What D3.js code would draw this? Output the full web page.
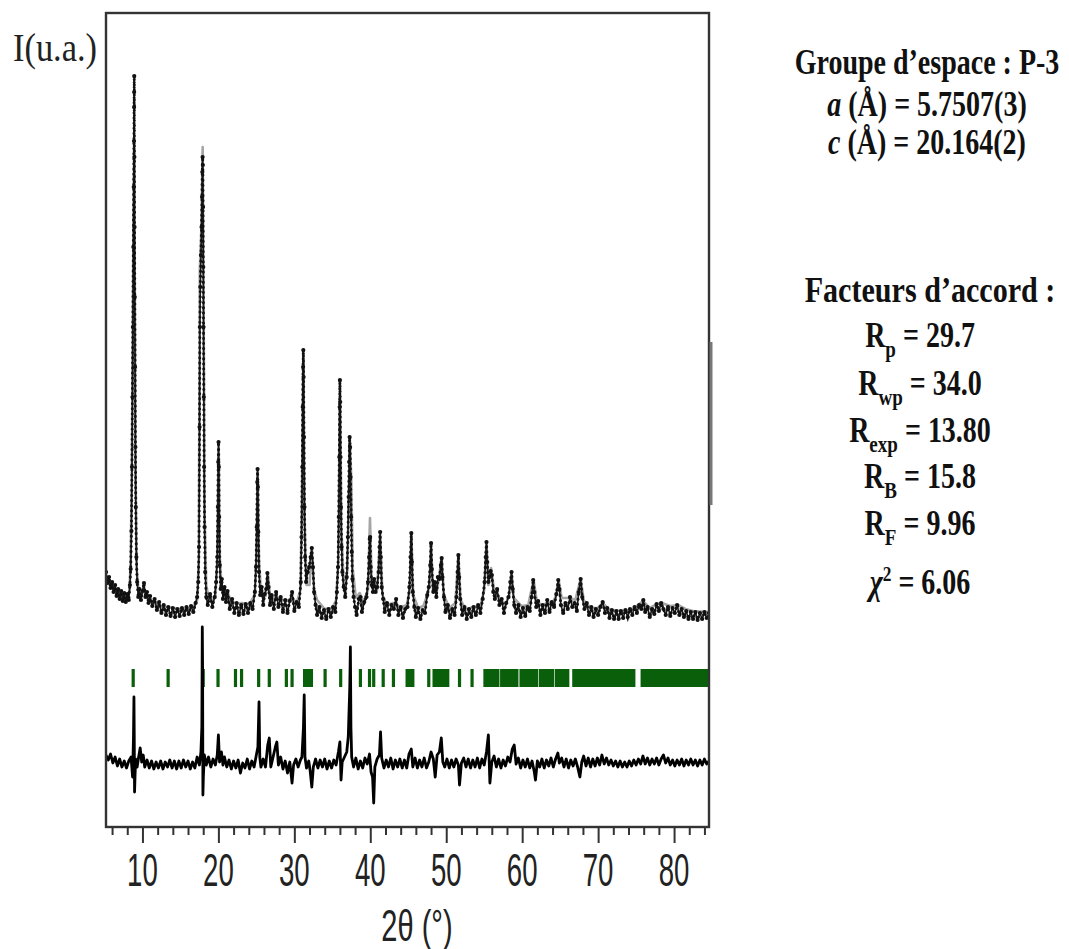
<!DOCTYPE html>
<html>
<head>
<meta charset="utf-8">
<script src="https://cdn.jsdelivr.net/npm/d3@7"></script>
<style>
  html, body { margin: 0; padding: 0; background: #fff; }
  svg { display: block; }
</style>
</head>
<body>
<svg id="chart" width="1069" height="949"></svg>
<script>
// ---------------- DATA ----------------
// 2θ (deg), intensity (arbitrary units)
const calculated = [
[5.2,49],[5.6,44],[6.0,40],[6.5,36],[7.0,33],[7.5,31],[8.0,30],[8.3,37],[8.45,67],[8.6,157],[8.75,327],[8.9,486],[9.0,327],[9.1,147],[9.25,57],[9.5,35],[9.8,31],[10.2,37],[10.6,29],[11.5,24],[12.5,20],[13.4,20],[14.5,18],[16.0,18],[16.8,21],[17.2,27],[17.42,67],[17.55,357],[17.75,397],[17.93,480],[18.05,327],[18.2,107],[18.4,42],[18.7,29],[19.2,27],[19.6,29],[19.85,67],[20.03,185],[20.2,67],[20.45,37],[20.8,31],[21.2,35],[21.6,27],[22.3,23],[23.1,24],[24.0,22],[24.8,32],[25.0,67],[25.17,158],[25.35,67],[25.6,35],[26.2,31],[26.5,54],[26.8,31],[27.6,31],[28.0,27],[29.0,26],[29.7,29],[30.3,24],[30.8,37],[31.0,127],[31.18,277],[31.35,107],[31.6,42],[32.0,42],[32.3,79],[32.6,37],[33.0,27],[34.0,18],[35.0,19],[35.5,27],[35.8,67],[36.0,247],[36.2,97],[36.5,42],[37.0,57],[37.15,127],[37.3,190],[37.5,147],[37.7,57],[38.1,29],[38.6,34],[39.1,25],[39.7,37],[39.96,109],[40.2,42],[40.5,45],[40.9,37],[41.3,95],[41.6,32],[42.2,22],[43.0,24],[43.8,19],[44.8,22],[45.2,37],[45.4,94],[45.65,32],[46.3,19],[47.0,21],[47.5,32],[47.8,42],[48.0,84],[48.25,37],[48.8,37],[49.0,47],[49.4,69],[49.7,32],[50.4,19],[51.2,24],[51.6,72],[51.9,27],[52.6,17],[53.5,20],[54.5,21],[55.0,37],[55.3,85],[55.55,42],[55.9,59],[56.3,37],[57.0,29],[57.8,22],[58.3,32],[58.6,55],[58.9,29],[59.9,21],[60.8,22],[61.5,47],[61.9,27],[62.6,21],[63.2,24],[64.0,24],[64.5,32],[64.8,47],[65.2,29],[66.3,29],[67.0,27],[67.7,48],[68.1,27],[69.0,19],[70.0,19],[70.6,24],[71.5,17],[73.0,16],[74.5,17],[75.9,26],[76.8,19],[77.8,23],[78.4,24],[79.5,21],[80.5,22],[81.5,18],[82.5,16],[84.6,15]
];

const observed = [
[5.2,55],[5.4,44],[5.6,50],[5.8,39],[6.0,45],[6.2,35],[6.4,42],[6.6,31],[6.8,38],[7.0,28],[7.2,36],[7.4,26],[7.6,34],[7.8,25],[8.0,33],[8.2,27],
[8.35,42],[8.45,58],[8.55,96],[8.62,160],[8.68,230],[8.74,300],[8.8,380],[8.85,440],[8.88,486],[8.9,520],[8.91,535],[8.92,551],[8.94,470],[8.96,400],[8.99,330],[9.03,260],[9.07,180],[9.12,120],[9.2,70],[9.3,45],[9.45,30],
[9.6,38],[9.8,27],[10.0,36],[10.2,44],[10.4,30],[10.6,35],[10.8,24],[11.0,31],[11.3,21],[11.6,28],[11.9,17],[12.2,25],[12.5,14],[12.8,22],[13.1,12],[13.4,20],[13.7,11],[14.0,19],[14.3,10],[14.6,18],[14.9,11],[15.2,19],[15.5,12],[15.8,20],[16.1,13],[16.4,21],[16.7,15],[17.0,24],[17.2,30],
[17.35,45],[17.45,80],[17.52,200],[17.56,300],[17.62,340],[17.7,372],[17.78,400],[17.84,430],[17.88,455],[17.92,470],[17.95,462],[17.98,420],[18.01,360],[18.04,300],[18.08,230],[18.12,160],[18.18,100],[18.26,55],[18.4,30],
[18.6,22],[18.9,33],[19.2,20],[19.5,30],[19.7,45],
[19.85,70],[19.93,120],[19.98,165],[20.02,185],[20.06,160],[20.1,110],[20.18,62],[20.3,38],[20.45,48],[20.6,28],[20.8,40],[21.0,25],[21.2,36],[21.5,18],[21.8,28],[22.1,14],[22.4,24],[22.7,12],[23.0,22],[23.3,13],[23.6,23],[23.9,14],[24.2,24],[24.5,18],[24.8,35],
[24.95,60],[25.05,100],[25.12,145],[25.16,158],[25.2,140],[25.26,95],[25.35,55],[25.5,32],[25.7,40],[25.9,22],[26.1,33],[26.3,38],[26.45,54],[26.6,40],[26.8,22],[27.0,32],[27.3,18],[27.6,35],[27.9,20],[28.2,30],[28.5,15],[28.8,27],[29.1,14],[29.4,26],[29.7,35],[30.0,16],[30.3,25],[30.6,20],[30.85,45],
[30.95,90],[31.05,160],[31.1,220],[31.15,260],[31.18,277],[31.22,250],[31.27,190],[31.33,120],[31.42,70],[31.55,45],[31.75,55],[31.95,60],[32.15,70],[32.3,79],[32.45,60],[32.6,35],[32.8,22],[33.0,12],[33.3,20],[33.6,9],[33.9,17],[34.2,8],[34.5,18],[34.8,10],[35.1,20],[35.4,15],[35.6,35],
[35.75,60],[35.85,110],[35.92,170],[35.97,220],[36.0,247],[36.04,225],[36.08,170],[36.14,120],[36.22,80],[36.32,55],[36.5,40],[36.7,30],[36.9,50],
[37.05,90],[37.15,130],[37.22,165],[37.28,190],[37.34,180],[37.4,150],[37.48,110],[37.56,75],[37.65,48],[37.8,30],[38.0,20],[38.2,12],[38.5,28],[38.7,30],[38.9,15],[39.2,25],[39.5,30],[39.7,45],
[39.85,70],[39.93,88],[39.98,90],[40.05,60],[40.2,42],[40.35,35],[40.5,48],[40.7,35],[40.9,40],[41.1,55],[41.22,80],[41.3,95],[41.38,70],[41.5,40],[41.7,28],[41.9,15],[42.2,24],[42.5,12],[42.8,22],[43.1,18],[43.4,28],[43.7,12],[44.0,20],[44.3,9],[44.6,18],[44.9,20],[45.15,40],
[45.3,70],[45.4,94],[45.48,65],[45.6,35],[45.8,20],[46.0,10],[46.3,19],[46.6,8],[46.9,17],[47.2,14],[47.5,32],[47.7,40],[47.9,62],[48.0,84],[48.1,58],[48.3,35],[48.5,45],[48.7,30],[48.9,50],[49.1,48],[49.3,62],[49.4,69],[49.5,50],[49.7,30],[49.9,15],[50.2,22],[50.5,9],[50.8,18],[51.1,12],[51.35,30],[51.5,55],[51.6,72],[51.7,50],[51.85,28],[52.1,12],[52.4,20],[52.7,8],[53.0,18],[53.3,10],[53.6,20],[53.9,12],[54.2,22],[54.5,14],[54.8,28],[55.05,45],[55.2,70],[55.3,85],[55.4,65],[55.55,45],[55.7,50],[55.85,56],[56.0,52],[56.2,35],[56.4,28],[56.7,38],[57.0,22],[57.3,28],[57.6,14],[57.9,24],[58.2,30],[58.45,45],[58.6,55],[58.75,38],[58.95,22],[59.2,14],[59.5,22],[59.8,10],[60.1,19],[60.4,11],[60.7,20],[61.0,16],[61.25,30],[61.45,47],[61.6,35],[61.85,20],[62.1,26],[62.4,12],[62.7,22],[63.0,14],[63.3,27],[63.6,15],[63.9,25],[64.2,20],[64.5,33],[64.75,47],[64.9,38],[65.1,22],[65.4,14],[65.7,24],[66.0,18],[66.3,30],[66.6,20],[66.9,24],[67.2,16],[67.45,35],[67.7,48],[67.9,30],[68.2,18],[68.5,24],[68.8,12],[69.1,20],[69.4,10],[69.7,18],[70.0,12],[70.3,20],[70.6,25],[70.9,14],[71.2,19],[71.5,9],[71.8,17],[72.1,8],[72.4,16],[72.7,8],[73.0,16],[73.3,9],[73.6,17],[73.9,10],[74.2,18],[74.5,12],[74.8,20],[75.1,14],[75.4,22],[75.7,18],[75.95,27],[76.2,15],[76.5,20],[76.8,10],[77.1,18],[77.4,13],[77.7,23],[78.0,16],[78.3,24],[78.6,18],[78.9,12],[79.2,20],[79.5,11],[79.8,19],[80.1,14],[80.4,22],[80.7,12],[81.0,18],[81.3,10],[81.6,16],[81.9,8],[82.2,15],[82.5,8],[82.8,15],[83.1,7],[83.4,14],[83.7,8],[84.0,15],[84.3,9],[84.6,14]
];

const difference = [
[5.2,-128],[5.5,-133],[5.8,-127],[6.1,-136],[6.4,-130],[6.7,-139],[7.0,-132],[7.3,-140],[7.6,-134],[7.9,-141],[8.2,-134],[8.5,-130],[8.7,-150],
[8.82,-110],[8.88,-70],[8.92,-110],[8.96,-165],[9.02,-150],[9.1,-132],[9.3,-140],[9.5,-130],[9.7,-121],[9.9,-135],[10.1,-128],[10.3,-140],[10.6,-133],[10.9,-141],[11.2,-134],[11.5,-142],[11.8,-135],[12.1,-141],[12.4,-134],[12.7,-142],[13.0,-135],[13.3,-140],[13.6,-133],[13.9,-141],[14.2,-134],[14.5,-142],[14.8,-134],[15.1,-141],[15.4,-133],[15.7,-140],[16.0,-134],[16.3,-142],[16.6,-135],[16.9,-141],[17.2,-130],[17.5,-138],[17.7,-125],
[17.82,-100],[17.88,0],[17.92,-40],[17.96,-168],[18.02,-150],[18.15,-128],[18.4,-138],[18.7,-130],[19.0,-140],[19.3,-132],[19.6,-138],[19.85,-128],[20.0,-108],[20.15,-135],[20.4,-125],[20.6,-138],[20.8,-130],[21.1,-140],[21.4,-133],[21.7,-142],[22.0,-134],[22.3,-141],[22.6,-133],[22.9,-146],[23.2,-136],[23.5,-141],[23.8,-132],[24.1,-142],[24.4,-134],[24.7,-140],[25.0,-128],
[25.2,-120],[25.35,-75],[25.45,-130],[25.6,-140],[25.9,-132],[26.2,-140],[26.5,-118],[26.7,-111],[26.9,-140],[27.2,-130],[27.5,-120],[27.7,-115],[27.9,-138],[28.2,-130],[28.5,-142],[28.8,-134],[29.1,-146],[29.4,-135],[29.7,-156],[29.9,-138],[30.2,-132],[30.5,-140],[30.8,-133],[31.0,-130],
[31.2,-100],[31.3,-68],[31.4,-130],[31.6,-141],[31.9,-134],[32.1,-145],[32.3,-160],[32.5,-140],[32.8,-132],[33.1,-141],[33.4,-133],[33.7,-140],[34.0,-132],[34.3,-142],[34.6,-134],[34.9,-141],[35.2,-133],[35.5,-138],[35.8,-125],[36.0,-115],[36.15,-153],[36.3,-135],[36.6,-130],[36.9,-125],[37.1,-110],
[37.3,-60],[37.38,-20],[37.45,-100],[37.55,-130],[37.8,-140],[38.1,-131],[38.4,-142],[38.7,-134],[39.0,-141],[39.3,-131],[39.6,-137],[39.9,-127],[40.1,-145],[40.3,-150],[40.45,-176],[40.6,-140],[40.9,-132],[41.2,-128],[41.35,-105],[41.5,-131],[41.8,-141],[42.1,-133],[42.4,-140],[42.7,-131],[43.0,-142],[43.3,-133],[43.6,-140],[43.9,-132],[44.2,-141],[44.5,-133],[44.8,-141],[45.1,-127],[45.4,-122],[45.6,-140],[45.9,-131],[46.2,-141],[46.5,-133],[46.8,-140],[47.1,-131],[47.4,-141],[47.7,-135],[48.0,-125],[48.3,-132],[48.55,-150],[48.8,-128],[49.1,-125],[49.35,-111],[49.55,-135],[49.8,-140],[50.1,-132],[50.4,-141],[50.7,-133],[51.0,-140],[51.3,-132],[51.6,-138],[51.75,-158],[52.0,-136],[52.3,-131],[52.6,-140],[52.9,-132],[53.2,-141],[53.5,-133],[53.8,-140],[54.1,-131],[54.4,-141],[54.7,-132],[55.0,-138],[55.3,-125],[55.55,-108],[55.75,-156],[56.0,-135],[56.3,-129],[56.6,-140],[56.9,-132],[57.2,-141],[57.5,-133],[57.8,-139],[58.1,-130],[58.4,-135],[58.7,-122],[58.95,-118],[59.2,-137],[59.5,-131],[59.8,-141],[60.1,-133],[60.4,-140],[60.7,-132],[61.0,-141],[61.3,-134],[61.6,-145],[61.75,-153],[62.0,-134],[62.3,-140],[62.6,-132],[62.9,-141],[63.2,-133],[63.5,-139],[63.8,-131],[64.1,-140],[64.4,-132],[64.7,-126],[64.9,-136],[65.2,-131],[65.5,-140],[65.8,-132],[66.1,-141],[66.4,-133],[66.7,-139],[67.0,-132],[67.3,-140],[67.6,-150],[67.85,-135],[68.1,-129],[68.4,-139],[68.7,-131],[69.0,-140],[69.3,-132],[69.6,-139],[69.9,-131],[70.2,-138],[70.5,-128],[70.8,-137],[71.1,-131],[71.4,-138],[71.7,-133],[72.0,-139],[72.3,-134],[72.6,-140],[72.9,-134],[73.2,-140],[73.5,-135],[73.8,-140],[74.1,-134],[74.4,-139],[74.7,-133],[75.0,-138],[75.3,-132],[75.6,-137],[75.9,-129],[76.2,-137],[76.5,-131],[76.8,-138],[77.1,-132],[77.4,-137],[77.7,-131],[78.0,-138],[78.3,-132],[78.6,-128],[78.9,-136],[79.2,-131],[79.5,-138],[79.8,-133],[80.1,-139],[80.4,-133],[80.7,-138],[81.0,-132],[81.3,-139],[81.6,-133],[81.9,-138],[82.2,-132],[82.5,-138],[82.8,-133],[83.1,-139],[83.4,-133],[83.7,-138],[84.0,-132],[84.3,-137],[84.6,-134]
];

// Bragg reflection positions: [start 2θ, end 2θ] (single reflections: start = end)
const braggPositions = [
[8.78,8.78],[13.38,13.38],[18.0,18.0],[19.95,19.95],[22.25,22.25],[23.05,23.05],[25.3,25.3],[26.7,26.7],[28.95,28.95],[29.7,29.7],[31.35,32.25],[34.05,34.05],[36.1,36.1],[38.7,38.7],[39.9,39.9],[40.45,40.45],[41.7,41.7],[43.05,43.05],[44.85,45.6],[47.7,47.7],[48.4,50.2],[51.75,51.75],[53.4,53.4],
[55.1,56.8],[57.3,59.3],[59.85,61.9],[62.4,64.0],[64.5,66.0],[66.8,74.7],[75.8,84.6]
];

const majorTicks = [10, 20, 30, 40, 50, 60, 70, 80];
const majorTickLabels = ["10", "20", "30", "40", "50", "60", "70", "80"];
const minorTicks = [6, 8, 12, 14, 16, 18, 22, 24, 26, 28, 32, 34, 36, 38, 42, 44, 46, 48, 52, 54, 56, 58, 62, 64, 66, 68, 72, 74, 76, 78, 82, 84];

const xTitle = "2θ (°)";
const yTitle = "I(u.a.)";

// Refinement results
const cellLines = [
  [{t: "Groupe d’espace : P-3"}],
  [{t: "a", it: true}, {t: " (Å) = 5.7507(3)"}],
  [{t: "c", it: true}, {t: " (Å) = 20.164(2)"}]
];
const agreementTitle = "Facteurs d’accord :";
const agreementLines = [
  [{t: "R"}, {t: "p", sub: true}, {t: " = 29.7"}],
  [{t: "R"}, {t: "wp", sub: true}, {t: " = 34.0"}],
  [{t: "R"}, {t: "exp", sub: true}, {t: " = 13.80"}],
  [{t: "R"}, {t: "B", sub: true}, {t: " = 15.8"}],
  [{t: "R"}, {t: "F", sub: true}, {t: " = 9.96"}],
  [{t: "χ", it: true}, {t: "2", sup: true}, {t: " = 6.06"}]
];

// ---------------- DRAWING ----------------
const svg = d3.select("#chart");
svg.append("rect").attr("width", 1069).attr("height", 949).attr("fill", "#fff");

const plot = {left: 106, right: 709, top: 13, bottom: 827};
const x = d3.scaleLinear().domain([5.2, 84.6]).range([plot.left, plot.right]);
const y = d3.scaleLinear().domain([-200, 614]).range([plot.bottom, plot.top]);

const clip = svg.append("defs").append("clipPath").attr("id", "plotclip");
clip.append("rect").attr("x", plot.left).attr("y", plot.top)
  .attr("width", plot.right - plot.left).attr("height", plot.bottom - plot.top);

const g = svg.append("g").attr("clip-path", "url(#plotclip)");
const line = d3.line().x(d => x(d[0])).y(d => y(d[1]));

// calculated profile (grey line)
g.append("path").datum(calculated).attr("d", line)
  .attr("fill", "none").attr("stroke", "#a6a6a6").attr("stroke-width", 2.6)
  .attr("stroke-linejoin", "round");

// observed (black dots joined by a thin trace)
g.append("path").datum(observed).attr("d", line)
  .attr("fill", "none").attr("stroke", "#1a1a1a").attr("stroke-width", 1.6)
  .attr("stroke-linejoin", "round");
g.append("path").datum(observed).attr("d", line)
  .attr("fill", "none").attr("stroke", "#111").attr("stroke-width", 3)
  .attr("stroke-linecap", "round").attr("stroke-dasharray", "0.1 5");
g.append("g").selectAll("circle").data(observed).join("circle")
  .attr("cx", d => x(d[0])).attr("cy", d => y(d[1])).attr("r", 2.1).attr("fill", "#111");

// Bragg positions (green ticks)
g.append("g").selectAll("rect").data(braggPositions).join("rect")
  .attr("x", d => x(d[0]) - 1.6)
  .attr("width", d => x(d[1]) - x(d[0]) + 3.2)
  .attr("y", y(-42)).attr("height", y(-60) - y(-42))
  .attr("fill", "#0a600a");

// difference curve
g.append("path").datum(difference).attr("d", line)
  .attr("fill", "none").attr("stroke", "#000").attr("stroke-width", 2.8)
  .attr("stroke-linejoin", "round");

// frame
svg.append("rect").attr("x", plot.left).attr("y", plot.top)
  .attr("width", plot.right - plot.left).attr("height", plot.bottom - plot.top)
  .attr("fill", "none").attr("stroke", "#333").attr("stroke-width", 2.4);
// scanned grey artefact on the right border
svg.append("line").attr("x1", plot.right + 2).attr("x2", plot.right + 2)
  .attr("y1", 342).attr("y2", 505).attr("stroke", "#777").attr("stroke-width", 3);

// x axis ticks
const axisG = svg.append("g").attr("transform", `translate(0,${plot.bottom})`);
axisG.call(d3.axisBottom(x).tickValues(majorTicks).tickSize(16).tickFormat(""));
axisG.call(g2 => g2.select(".domain").remove());
const minorG = svg.append("g").attr("transform", `translate(0,${plot.bottom})`);
minorG.call(d3.axisBottom(x).tickValues(minorTicks).tickSize(8).tickFormat(""));
minorG.call(g2 => g2.select(".domain").remove());
svg.selectAll(".tick line").attr("stroke", "#333").attr("stroke-width", 2);

// tick labels (narrow sans)
svg.append("g").selectAll("text").data(majorTicks).join("text")
  .attr("transform", d => `translate(${x(d)},886) scale(0.6,1)`)
  .attr("text-anchor", "middle")
  .attr("font-family", "Liberation Sans, Arial, sans-serif")
  .attr("font-size", 46).attr("fill", "#222")
  .text((d, i) => majorTickLabels[i]);

svg.append("text")
  .attr("transform", `translate(417,941) scale(0.66,1)`)
  .attr("text-anchor", "middle")
  .attr("font-family", "Liberation Sans, Arial, sans-serif")
  .attr("font-size", 44).attr("fill", "#222")
  .text(xTitle);

svg.append("text")
  .attr("transform", `translate(55,61) scale(0.86,1)`)
  .attr("text-anchor", "middle")
  .attr("font-family", "Liberation Serif, Times New Roman, serif")
  .attr("font-size", 40).attr("fill", "#222")
  .text(yTitle);

// right-hand text block
function richLine(parts, cx, baseline, size, sx) {
  const t = svg.append("text")
    .attr("transform", `translate(${cx},${baseline}) scale(${sx},1)`)
    .attr("text-anchor", "middle")
    .attr("font-family", "Liberation Serif, Times New Roman, serif")
    .attr("font-weight", "bold").attr("font-size", size).attr("fill", "#111");
  parts.forEach((p, i) => {
    const s = t.append("tspan").text(p.t);
    if (p.it) s.attr("font-style", "italic");
    if (p.sub) s.attr("font-size", size * 0.68).attr("dy", size * 0.28);
    if (p.sup) s.attr("font-size", size * 0.62).attr("dy", -size * 0.38);
    const prev = parts[i - 1];
    if (!p.sub && !p.sup && prev) {
      if (prev.sub) s.attr("dy", -size * 0.28);
      if (prev.sup) s.attr("dy", size * 0.38);
    }
  });
  return t;
}

const cellBaselines = [74, 116, 154];
cellLines.forEach((ln, i) => richLine(ln, 927, cellBaselines[i], 35, 0.8));
richLine([{t: agreementTitle}], 930, 302, 35, 0.86);
const agrBaselines = [347, 395, 442, 488, 535, 594];
agreementLines.forEach((ln, i) => richLine(ln, 920, agrBaselines[i], 35, 0.8));
</script>
</body>
</html>
